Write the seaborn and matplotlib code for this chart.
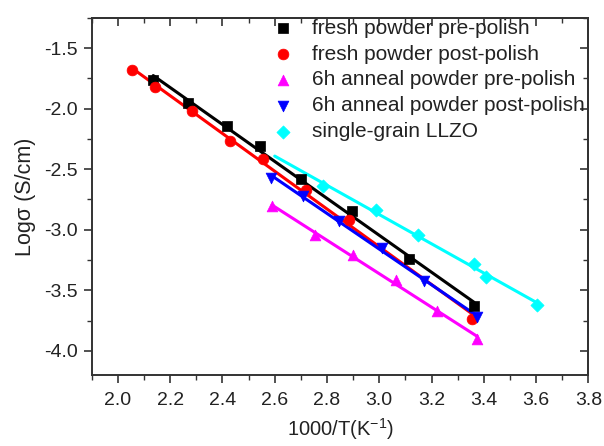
import numpy as np
import pandas as pd
import matplotlib
matplotlib.use("Agg")
import matplotlib.pyplot as plt
import seaborn as sns
from matplotlib.ticker import MultipleLocator

sns.set_style("ticks")
plt.rcParams['font.family'] = ['Liberation Sans', 'DejaVu Sans']
plt.rcParams['axes.unicode_minus'] = False

labels = ["fresh powder pre-polish", "fresh powder post-polish",
          "6h anneal powder pre-polish", "6h anneal powder post-polish",
          "single-grain LLZO"]

x_fresh_pre = [2.135, 2.268, 2.419, 2.542, 2.70, 2.896, 3.115, 3.363]
y_fresh_pre = [-1.76, -1.955, -2.14, -2.31, -2.58, -2.846, -3.24, -3.627]

x_fresh_post = [2.052, 2.141, 2.284, 2.427, 2.555, 2.718, 2.883, 3.356]
y_fresh_post = [-1.68, -1.82, -2.02, -2.27, -2.415, -2.67, -2.92, -3.74]

x_6h_pre = [2.59, 2.756, 2.898, 3.063, 3.22, 3.375]
y_6h_pre = [-2.805, -3.04, -3.21, -3.416, -3.67, -3.90]

x_6h_post = [2.587, 2.707, 2.847, 3.01, 3.17, 3.375]
y_6h_post = [-2.57, -2.72, -2.93, -3.15, -3.42, -3.72]

x_single = [2.784, 2.987, 3.15, 3.364, 3.407, 3.604]
y_single = [-2.64, -2.84, -3.04, -3.28, -3.39, -3.62]

# fit line x-ranges
fit_ranges = [(2.135, 3.363), (2.052, 3.356), (2.59, 3.375), (2.587, 3.375), (2.6, 3.604)]

colors = ["#000000", "#ff0000", "#ff00ff", "#0000ff", "#00ffff"]
markers = ["s", "o", "^", "v", "D"]
msizes = [55, 60, 60, 60, 45]

xs = [x_fresh_pre, x_fresh_post, x_6h_pre, x_6h_post, x_single]
ys = [y_fresh_pre, y_fresh_post, y_6h_pre, y_6h_post, y_single]

fig = plt.figure(figsize=(6.04, 4.46), dpi=100)
ax = fig.add_axes([0.152, 0.159, 0.822, 0.801])

for lab, x, y, c, m, s, fr in zip(labels, xs, ys, colors, markers, msizes, fit_ranges):
    slope, icpt = np.polyfit(x, y, 1)
    xl = np.array(fr)
    line_df = pd.DataFrame({"x": xl, "y": slope * xl + icpt})
    sns.lineplot(data=line_df, x="x", y="y", color=c, lw=2.2, ax=ax, legend=False, zorder=2)

for lab, x, y, c, m, s in zip(labels, xs, ys, colors, markers, msizes):
    df = pd.DataFrame({"x": x, "y": y})
    sns.scatterplot(data=df, x="x", y="y", color=c, marker=m, s=s, ax=ax,
                    label=lab, edgecolor=c, linewidth=0.5, zorder=3)

ax.set_xlim(1.9, 3.8)
ax.set_ylim(-4.2, -1.25)
ax.xaxis.set_minor_locator(MultipleLocator(0.1))
ax.yaxis.set_major_locator(MultipleLocator(0.5))
ax.yaxis.set_minor_locator(MultipleLocator(0.25))
xt = np.round(np.arange(2.0, 3.81, 0.2), 1)
ax.set_xticks(xt)
ax.set_xticklabels([f"{v:.1f}" for v in xt])

for sp in ax.spines.values():
    sp.set_visible(True)
    sp.set_linewidth(1.4)
    sp.set_color("#333333")

ax.tick_params(which="major", direction="out", length=6, width=1.2, colors="#333333",
               labelsize=14, labelcolor="#222222", pad=4)
ax.tick_params(axis="x", which="major", pad=6)
ax.tick_params(which="minor", direction="out", length=3.5, width=1.0, colors="#333333")

secx = ax.secondary_xaxis('top')
secx.xaxis.set_major_locator(MultipleLocator(0.2))
secx.xaxis.set_minor_locator(MultipleLocator(0.1))
secx.tick_params(which="major", direction="in", length=6, width=1.2, colors="#333333", labeltop=False)
secx.tick_params(which="minor", direction="in", length=3.5, width=1.0, colors="#333333")
secx.spines['top'].set_linewidth(1.4)
secx.spines['top'].set_color("#333333")
secy = ax.secondary_yaxis('right')
secy.yaxis.set_major_locator(MultipleLocator(0.5))
secy.yaxis.set_minor_locator(MultipleLocator(0.25))
secy.tick_params(which="major", direction="in", length=6, width=1.2, colors="#333333", labelright=False)
secy.tick_params(which="minor", direction="in", length=3.5, width=1.0, colors="#333333")
secy.spines['right'].set_linewidth(1.4)
secy.spines['right'].set_color("#333333")

ax.set_xlabel("1000/T(K$^{\\mathregular{-1}}$)", fontsize=14.5, color="#222222", labelpad=5)
ax.set_ylabel("Logσ (S/cm)", fontsize=15.5, color="#222222", labelpad=6)

leg = ax.legend(loc="upper right", frameon=False, fontsize=15, handletextpad=0.9,
                labelspacing=0.33, borderaxespad=0.0, borderpad=0.3, handlelength=1.0,
                bbox_to_anchor=(1.005, 1.015))
for t in leg.get_texts():
    t.set_color("#222222")

fig.savefig("out.png", dpi=100)
